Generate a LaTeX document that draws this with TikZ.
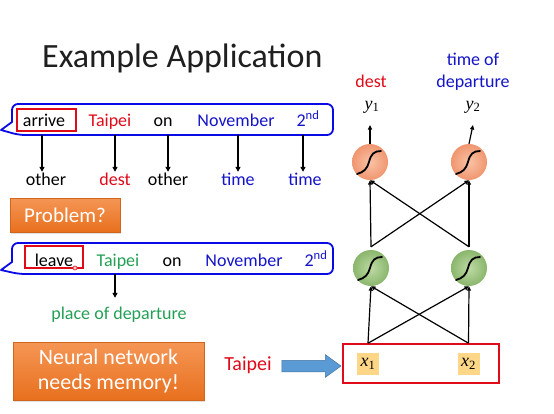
\documentclass[tikz,border=0pt]{standalone}
\usepackage{fontspec}
\setmainfont{Carlito}
\newfontfamily\tms{Liberation Serif}
\usetikzlibrary{arrows.meta,calc,shapes.arrows,shadows}
\definecolor{tred}{RGB}{225,10,25}
\definecolor{tblue}{RGB}{20,20,200}
\definecolor{tgreen}{RGB}{35,160,85}
\definecolor{bubblue}{RGB}{10,10,230}
\definecolor{orngtop}{RGB}{245,150,85}
\definecolor{orngbot}{RGB}{232,112,30}
\definecolor{arrblue}{RGB}{91,155,213}
\definecolor{xfill}{RGB}{254,214,135}
\newcommand\sigcurve[1]{\draw[line width=1.8pt, line cap=round, shift={(#1)}] (-13,12) .. controls (-6,10) and (-3,7) .. (-1,0) .. controls (1,-8) and (4,-11) .. (11,-11);}
\begin{document}
\begin{tikzpicture}[x=1pt,y=-1pt,
  word/.style={font=\fontsize{18}{21}\selectfont, anchor=base, inner sep=0pt},
  lab/.style={word, text height=13pt, text depth=4pt},
  arr/.style={-{Triangle[length=5pt,width=5pt]}, line width=1.3pt},
  narr/.style={-{Triangle[length=4.5pt,width=4pt]}, line width=1.2pt},
  bubble/.style={draw=bubblue, line width=1.8pt, fill=white, line join=round},
  redbox/.style={draw=tred, line width=1.6pt, inner sep=0pt},
  obox/.style={top color=orngtop, bottom color=orngbot, draw=orngbot!90!black, line width=0.4pt, text=white, drop shadow={opacity=0.25, shadow xshift=1pt, shadow yshift=-1.5pt}},
  neuro/.style={circle, minimum size=36pt, inner sep=0pt, shade},
  orn/.style={neuro, inner color={rgb,255:red,250;green,195;blue,165}, outer color={rgb,255:red,240;green,150;blue,112}},
  grn/.style={neuro, inner color={rgb,255:red,190;green,218;blue,165}, outer color={rgb,255:red,138;green,182;blue,108}},
  xbox/.style={fill=xfill, minimum width=22pt, minimum height=22pt, inner sep=0pt, font=\fontsize{18}{20}\selectfont},
  yl/.style={inner sep=0pt, font=\fontsize{18}{20}\selectfont}
]
\useasboundingbox (0,0) rectangle (554,413);
\fill[white] (0,0) rectangle (554,413);

% title
\node[anchor=base west, inner sep=0pt, font=\fontsize{34}{40}\selectfont, text=black!88] (title) at (42,67) {Example Application};

% bubble 1
\draw[bubble] (1,130) -- (12,122) [rounded corners=6] -- (12,104) -- (333,104) -- (333,135) -- (19,135) [sharp corners] -- cycle;
\coordinate (b1s) at (0,135);
\node[redbox, minimum width=59pt, minimum height=22pt] (rb1) at (46.5,120) {};
\node[word] (w11) at (44,126) {arrive};
\node[word, text=tred] (w12) at (110,126) {Taipei};
\node[word] (w13) at (163,126) {on};
\node[word, text=tblue] (w14) at (236,126) {November};
\node[word, text=tblue] (w15) at (308,126) {2\textsuperscript{nd}};

\node[lab] (l1) at (46,185) {other};
\node[lab, text=tred] (l2) at (115,185) {dest};
\node[lab] (l3) at (168,185) {other};
\node[lab, text=tblue] (l4) at (238,185) {time};
\node[lab, text=tblue] (l5) at (305,185) {time};
\foreach \l/\dx in {l1/-4,l2/0,l3/0,l4/0,l5/-2}{
  \draw[arr] ($(\l |- b1s)+(\dx,0)$) -- ($(\l.north)+(\dx,0)$);
}

% problem
\node[obox, minimum width=110pt, minimum height=34pt, inner sep=0pt, font=\fontsize{21}{25}\selectfont] (prob) at (65,215) {Problem?};

% bubble 2
\draw[bubble] (1,270) -- (12,262) [rounded corners=6] -- (12,243) -- (333,243) -- (333,274) -- (19,274) [sharp corners] -- cycle;
\coordinate (b2s) at (0,274);
\node[redbox, minimum width=58pt, minimum height=22pt] (rb2) at (54,257) {};
\node[word] (w21) at (54,266) {leave};
\node[word, text=tgreen] (w22) at (118,266) {Taipei};
\node[word] (w23) at (172,266) {on};
\node[word, text=tblue] (w24) at (244,266) {November};
\node[word, text=tblue] (w25) at (316,266) {2\textsuperscript{nd}};
\node[circle, draw=tred!80, fill=tred!20, line width=0.8pt, minimum size=4pt, inner sep=0pt] (cursor) at (75,268) {};
\node[lab, text=tgreen] (pod) at (119,319) {place of departure};
\draw[arr] ($(w22 |- b2s)+(-3,0)$) -- ($(pod.north)+(-4,-8)$);

% neural network box
\node[obox, minimum width=191pt, minimum height=58pt, inner sep=0pt, align=center, font=\fontsize{22}{25}\selectfont] (nn) at (108.5,371) {Neural network\\needs memory!};

% Taipei input
\node[anchor=base, inner sep=0pt, text=tred, font=\fontsize{20}{24}\selectfont] (tp) at (248,370) {Taipei};
\node[single arrow, fill=arrblue, draw=arrblue!75!black, line width=0.5pt, minimum height=59pt, minimum width=22pt, inner sep=5.5pt, single arrow head extend=5.5pt, single arrow tip angle=72, anchor=center] (barr) at (307.5,366) {};

% inputs
\node[draw=tred, line width=1.6pt, minimum width=156pt, minimum height=39pt, inner sep=0pt] (inbox) at (421,363.5) {};
\node[xbox] (x1) at (368,364) {{\tms\itshape x}\textsubscript{\tms 1}};
\node[xbox] (x2) at (468.5,364) {{\tms\itshape x}\textsubscript{\tms 2}};

% neurons
\node[grn] (g1) at (371,268) {};
\node[grn] (g2) at (469,268) {};
\node[orn] (o1) at (370,162) {};
\node[orn] (o2) at (469,162) {};
\sigcurve{g1}
\sigcurve{g2}
\sigcurve{o1}
\sigcurve{o2}

% outputs
\node[yl] (y1) at (372,107) {{\tms\itshape y}\textsubscript{\tms 1}};
\node[yl] (y2) at (473,107) {{\tms\itshape y}\textsubscript{\tms 2}};
\node[lab, text=tred] (d1) at (371,87) {dest};
\node[lab, text=tblue] (t2a) at (473,65) {time of};
\node[lab, text=tblue] (t2b) at (473,87) {departure};

% connections
\draw[narr] (x1.north |- inbox.north) -- (g1.south);
\draw[narr] (x1.north |- inbox.north) -- (g2.south);
\draw[narr] (x2.north |- inbox.north) -- (g2.south);
\draw[narr] (x2.north |- inbox.north) -- (g1.south);
\draw[narr] ($(g1.north)+(0,-3)$) -- (o1.south);
\draw[narr] ($(g1.north)+(0,-3)$) -- (o2.south);
\draw[narr] ($(g2.north)+(0,-3)$) -- (o2.south);
\draw[narr] ($(g2.north)+(0,-3)$) -- (o1.south);
\draw[narr] (o1.north) -- ($(y1.center)+(-2,18)$);
\draw[narr] (o2.north) -- ($(y2.center)+(0,18)$);
\end{tikzpicture}
\end{document}
